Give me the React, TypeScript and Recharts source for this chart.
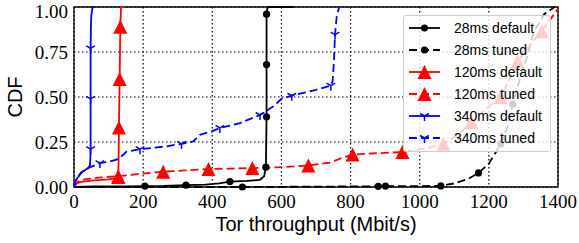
import { CartesianGrid, Legend, Line, LineChart, ReferenceArea, XAxis, YAxis } from "recharts"

// tick labels
const xTicks = [0, 200, 400, 600, 800, 1000, 1200, 1400]
const yTicks = [0, 0.25, 0.5, 0.75, 1]

// 28ms default
const def28X = [0, 60, 150, 205, 260, 324, 380, 420, 451, 500, 538, 550, 555, 556, 557, 557, 557, 559, 563, 635]
const def28Y = [0, 0.003, 0.004, 0.005, 0.006, 0.01, 0.013, 0.02, 0.03, 0.034, 0.04, 0.06, 0.11, 0.25, 0.39, 0.68, 0.96, 0.99, 1, 1]
const def28Marks = [3, 5, 8, 12, 14, 15, 16]

// 28ms tuned
const tun28X = [0, 200, 487, 700, 880, 901, 1000, 1061, 1100, 1140, 1170, 1200, 1235, 1255, 1269, 1290, 1310, 1330, 1360, 1390]
const tun28Y = [0, 0, 0, 0.002, 0.004, 0.005, 0.005, 0.006, 0.02, 0.045, 0.078, 0.13, 0.24, 0.34, 0.46, 0.6, 0.72, 0.86, 0.96, 1]
const tun28Marks = [2, 4, 5, 7, 10, 12, 14]

// 120ms default
const def120X = [0, 3, 8, 20, 50, 100, 125, 128, 129, 130, 131, 132, 133, 134, 136, 145]
const def120Y = [0, 0.01, 0.02, 0.028, 0.035, 0.042, 0.05, 0.055, 0.15, 0.33, 0.47, 0.6, 0.75, 0.89, 1, 1]
const def120Marks = [7, 9, 11, 13]

// 120ms tuned
const tun120X = [0, 5, 12, 30, 70, 128, 200, 258, 320, 389, 450, 516, 600, 678, 740, 780, 806, 880, 950, 1020, 1068, 1110, 1150, 1190, 1234, 1260, 1283, 1320, 1353, 1400]
const tun120Y = [0, 0.015, 0.03, 0.042, 0.052, 0.06, 0.075, 0.085, 0.092, 0.1, 0.102, 0.105, 0.11, 0.12, 0.135, 0.165, 0.18, 0.188, 0.194, 0.215, 0.24, 0.29, 0.36, 0.43, 0.5, 0.6, 0.7, 0.79, 0.865, 0.99]
const tun120Marks = [5, 7, 9, 11, 13, 16, 18, 20, 22, 24, 26, 28]

// 340ms default
const def340X = [0, 2, 5, 10, 17, 25, 35, 41, 46, 47, 48, 48, 48, 49, 50, 52, 54, 60]
const def340Y = [0, 0.02, 0.035, 0.05, 0.068, 0.085, 0.098, 0.105, 0.12, 0.15, 0.21, 0.49, 0.77, 0.9, 0.95, 0.98, 1, 1]
const def340Marks = [10, 11, 12]

// 340ms tuned
const tun340X = [0, 3, 10, 20, 40, 60, 75, 100, 123, 140, 152, 191, 230, 268, 311, 345, 364, 400, 422, 480, 538, 577, 600, 630, 700, 743, 748, 752, 755, 760, 767]
const tun340Y = [0, 0.025, 0.055, 0.08, 0.105, 0.12, 0.133, 0.14, 0.152, 0.175, 0.197, 0.21, 0.218, 0.226, 0.24, 0.253, 0.29, 0.31, 0.328, 0.355, 0.4, 0.448, 0.49, 0.507, 0.54, 0.563, 0.587, 0.7, 0.846, 0.95, 1]
const tun340Marks = [6, 11, 14, 18, 20, 23, 25, 28]

const SERIF = "'Liberation Serif', 'Times New Roman', serif"
const SANS = "'Liberation Sans', Arial, sans-serif"

type Shape = "circle" | "triangle" | "tri"

const build = (xs: number[], ys: number[], marks: number[]) =>
  xs.map((x, i) => ({ x, y: ys[i], m: marks.includes(i) }))

const series = [
  { name: "28ms default", color: "#000000", dash: false, shape: "circle" as Shape, data: build(def28X, def28Y, def28Marks) },
  { name: "28ms tuned", color: "#000000", dash: true, shape: "circle" as Shape, data: build(tun28X, tun28Y, tun28Marks) },
  { name: "120ms default", color: "#ff0000", dash: false, shape: "triangle" as Shape, data: build(def120X, def120Y, def120Marks) },
  { name: "120ms tuned", color: "#ff0000", dash: true, shape: "triangle" as Shape, data: build(tun120X, tun120Y, tun120Marks) },
  { name: "340ms default", color: "#0000ff", dash: false, shape: "tri" as Shape, data: build(def340X, def340Y, def340Marks) },
  { name: "340ms tuned", color: "#0000ff", dash: true, shape: "tri" as Shape, data: build(tun340X, tun340Y, tun340Marks) },
]

function marker(shape: Shape, x: number, y: number, color: string, key?: string | number) {
  if (shape === "circle") return <circle key={key} cx={x} cy={y} r={3.6} fill={color} />
  if (shape === "triangle") {
    const s = 7
    return <polygon key={key} points={`${x},${y - s} ${x - s},${y + s} ${x + s},${y + s}`} fill={color} />
  }
  const r = 5
  return (
    <path
      key={key}
      d={`M${x},${y}L${x},${y + r}M${x},${y}L${x - r * 0.866},${y - r * 0.5}M${x},${y}L${x + r * 0.866},${y - r * 0.5}`}
      stroke={color}
      strokeWidth={1.5}
      fill="none"
    />
  )
}

const makeDot = (shape: Shape, color: string) => (p: any) => {
  if (!p.payload?.m || p.cx == null || p.cy == null) return <g key={p.index} />
  return marker(shape, p.cx, p.cy, color, p.index)
}

function LegendBox() {
  return (
    <div
      style={{
        background: "rgba(255,255,255,0.8)",
        border: "1px solid #cccccc",
        borderRadius: 3,
        width: 146,
        padding: "1px 0 2px",
        fontFamily: SANS,
        fontSize: 14,
        color: "#000",
        boxSizing: "content-box",
      }}
    >
      {series.map((s) => (
        <div key={s.name} style={{ display: "flex", alignItems: "center", height: 22 }}>
          <svg width={50} height={22} style={{ flex: "none" }}>
            <line x1={5} x2={36} y1={11} y2={11} stroke={s.color} strokeWidth={1.8} strokeDasharray={s.dash ? "8 4" : undefined} />
            {marker(s.shape, 20.5, 11, s.color)}
          </svg>
          <span style={{ whiteSpace: "nowrap" }}>{s.name}</span>
        </div>
      ))}
    </div>
  )
}

const xLabel = (props: any) => {
  const vb = props.viewBox ?? { x: 74, y: 187, width: 484, height: 46 }
  return (
    <text x={vb.x + vb.width / 2} y={vb.y + 44} textAnchor="middle" fontFamily={SANS} fontSize={20} fill="#000">
      Tor throughput (Mbit/s)
    </text>
  )
}

const yLabel = (props: any) => {
  const vb = props.viewBox ?? { x: 10, y: 7, width: 64, height: 180 }
  const cx = vb.x + 12
  const cy = vb.y + vb.height / 2
  return (
    <text x={cx} y={cy} transform={`rotate(-90 ${cx} ${cy})`} textAnchor="middle" fontFamily={SANS} fontSize={20} fill="#000">
      CDF
    </text>
  )
}

export default function App() {
  return (
    <div style={{ position: "absolute", left: 0, top: 0, background: "#fff" }}>
      <LineChart width={579} height={243} margin={{ top: 7, right: 21, bottom: 10, left: 10 }}>
        <CartesianGrid stroke="#000" strokeDasharray="1.5 2.5" strokeWidth={1.2} />
        <XAxis
          type="number"
          dataKey="x"
          domain={[0, 1400]}
          ticks={xTicks}
          height={46}
          tickLine={false}
          axisLine={false}
          tickSize={6}
          tickMargin={2}
          tick={{ fontFamily: SERIF, fontSize: 19, fill: "#000" }}
          label={xLabel}
        />
        <YAxis
          type="number"
          dataKey="y"
          domain={[0, 1]}
          ticks={yTicks}
          width={64}
          tickLine={false}
          axisLine={false}
          tickSize={4}
          tickMargin={2}
          tickFormatter={(v: number) => v.toFixed(2)}
          tick={{ fontFamily: SERIF, fontSize: 19, fill: "#000" }}
          label={yLabel}
        />
        {series.map((s) => (
          <Line
            key={s.name}
            data={s.data}
            dataKey="y"
            type="linear"
            stroke={s.color}
            strokeWidth={1.8}
            strokeDasharray={s.dash ? "8 4" : undefined}
            dot={makeDot(s.shape, s.color)}
            activeDot={false}
            isAnimationActive={false}
          />
        ))}
        <ReferenceArea x1={0} x2={1400} y1={0} y2={1} fill="none" fillOpacity={0} stroke="#000" strokeWidth={1.3} ifOverflow="visible" />
        <Legend
          layout="vertical"
          align="center"
          verticalAlign="middle"
          content={() => <LegendBox />}
          wrapperStyle={{ left: 403, top: 15, width: 148, height: "auto" }}
        />
      </LineChart>
    </div>
  )
}
